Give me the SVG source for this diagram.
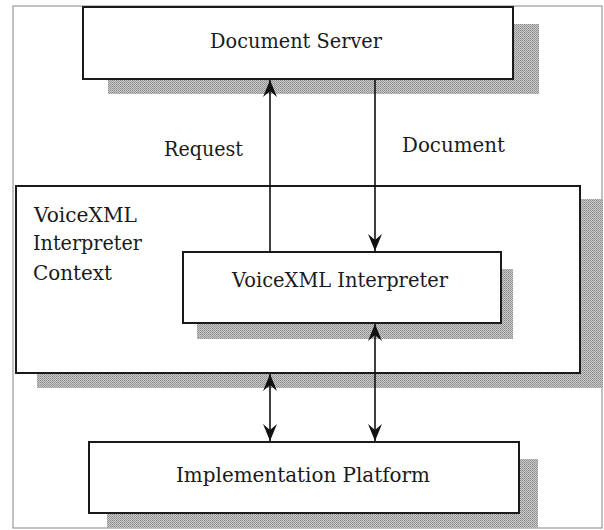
<svg xmlns="http://www.w3.org/2000/svg" width="604" height="530" viewBox="0 0 604 530">
  <style>
    .box { fill: #ffffff; stroke: #1a1a1a; stroke-width: 2; }
    .shadow { fill: url(#dither); stroke: none; }
    .label { font-family: "DejaVu Serif", "Liberation Serif", serif; font-size: 20px; fill: #1a1a1a; }
    .conn { stroke: #111111; stroke-width: 1.6; fill: none; }
  </style>
  <defs>
    <pattern id="dither" width="2" height="2" patternUnits="userSpaceOnUse">
      <rect width="2" height="2" fill="#c8c8c8"/>
      <rect width="1" height="1" fill="#8e8e8e"/>
      <rect x="1" y="1" width="1" height="1" fill="#9c9c9c"/>
    </pattern>
    <marker id="arrow" viewBox="-18 -8 19 16" refX="0" refY="0" markerWidth="19" markerHeight="16" markerUnits="userSpaceOnUse" orient="auto-start-reverse">
      <path d="M0,0 L-17,-7 L-11,0 L-17,7 Z" fill="#111111"/>
    </marker>
  </defs>

  <rect width="604" height="530" fill="#ffffff"/>
  <rect x="13" y="6" width="589" height="522" fill="none" stroke="#9a9a9a" stroke-width="1.2"/>

  <g id="document-server">
    <rect class="shadow" x="108" y="24" width="431" height="70"/>
    <rect class="box" x="83" y="7" width="430" height="72"/>
    <text class="label" x="296" y="48" text-anchor="middle" textLength="172" lengthAdjust="spacingAndGlyphs">Document Server</text>
  </g>

  <g id="interpreter-context">
    <rect class="shadow" x="37" y="199" width="566" height="189"/>
    <rect class="box" x="16" y="186" width="564" height="187"/>
    <text class="label" x="34" y="222" textLength="103" lengthAdjust="spacingAndGlyphs">VoiceXML</text>
    <text class="label" x="33" y="250" textLength="109" lengthAdjust="spacingAndGlyphs">Interpreter</text>
    <text class="label" x="33" y="280" textLength="79" lengthAdjust="spacingAndGlyphs">Context</text>
  </g>

  <g id="voicexml-interpreter">
    <rect class="shadow" x="197" y="269" width="316" height="70"/>
    <rect class="box" x="183" y="252" width="318" height="71"/>
    <text class="label" x="340" y="287" text-anchor="middle" textLength="216" lengthAdjust="spacingAndGlyphs">VoiceXML Interpreter</text>
  </g>

  <g id="implementation-platform">
    <rect class="shadow" x="107" y="459" width="431" height="69"/>
    <rect class="box" x="89" y="442" width="430" height="71"/>
    <text class="label" x="303" y="482" text-anchor="middle" textLength="254" lengthAdjust="spacingAndGlyphs">Implementation Platform</text>
  </g>

  <g id="connectors">
    <line class="conn" x1="270" y1="252" x2="270" y2="80" marker-end="url(#arrow)"/>
    <line class="conn" x1="375" y1="80" x2="375" y2="251" marker-end="url(#arrow)"/>
    <line class="conn" x1="270" y1="374" x2="270" y2="441" marker-start="url(#arrow)" marker-end="url(#arrow)"/>
    <line class="conn" x1="375" y1="324" x2="375" y2="441" marker-start="url(#arrow)" marker-end="url(#arrow)"/>
    <text class="label" x="164" y="156" textLength="79" lengthAdjust="spacingAndGlyphs">Request</text>
    <text class="label" x="402" y="152" textLength="103" lengthAdjust="spacingAndGlyphs">Document</text>
  </g>
</svg>
